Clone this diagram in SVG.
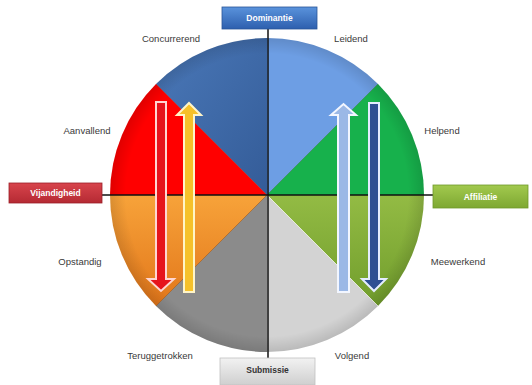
<svg xmlns="http://www.w3.org/2000/svg" width="532" height="385" viewBox="0 0 532 385">
<defs>
<style>
.lbl{font-family:"Liberation Sans",Arial,sans-serif;font-size:9.5px;fill:#3a3a3a;text-anchor:middle}
.btxt{font-family:"Liberation Sans",Arial,sans-serif;font-size:8.5px;font-weight:bold;text-anchor:middle}
.conn{stroke:#111;stroke-width:1.5;fill:none}
.div{stroke-width:1;fill:none}
</style>
<linearGradient id="gBlue" x1="0" y1="0" x2="0" y2="1"><stop offset="0" stop-color="#5a93dc"/><stop offset="1" stop-color="#2d5fae"/></linearGradient>
<linearGradient id="gRed" x1="0" y1="0" x2="0" y2="1"><stop offset="0" stop-color="#d8444c"/><stop offset="1" stop-color="#b52a33"/></linearGradient>
<linearGradient id="gGreen" x1="0" y1="0" x2="0" y2="1"><stop offset="0" stop-color="#a2c94e"/><stop offset="1" stop-color="#7ea832"/></linearGradient>
<linearGradient id="gGray" x1="0" y1="0" x2="0" y2="1"><stop offset="0" stop-color="#f2f2f2"/><stop offset="1" stop-color="#cfcfcf"/></linearGradient>
<linearGradient id="gOrange" x1="0" y1="0" x2="0" y2="1"><stop offset="0" stop-color="#f7a33a"/><stop offset="1" stop-color="#e2761a"/></linearGradient>
<linearGradient id="gOlive" x1="0" y1="0" x2="0" y2="1"><stop offset="0" stop-color="#93bb44"/><stop offset="1" stop-color="#719d2c"/></linearGradient>
<linearGradient id="gDark" x1="0" y1="0" x2="1" y2="1"><stop offset="0" stop-color="#4a78b8"/><stop offset="1" stop-color="#345c98"/></linearGradient>
<radialGradient id="gEdge" cx="0.5" cy="0.5" r="0.5"><stop offset="0.9" stop-color="#000" stop-opacity="0"/><stop offset="1" stop-color="#000" stop-opacity="0.12"/></radialGradient>
</defs>
<rect width="532" height="385" fill="#fff"/>

<g id="circle">
<path id="s-concurrerend" d="M267,195 L267,38 A157,157 0 0 0 156,84 Z" fill="url(#gDark)"/>
<path id="s-leidend" d="M267,195 L378,84 A157,157 0 0 0 267,38 Z" fill="#6d9ee4"/>
<path id="s-helpend" d="M267,195 L424,195 A157,157 0 0 0 378,84 Z" fill="#17b14c"/>
<path id="s-meewerkend" d="M267,195 L378,306 A157,157 0 0 0 424,195 Z" fill="url(#gOlive)"/>
<path id="s-volgend" d="M267,195 L267,352 A157,157 0 0 0 378,306 Z" fill="#d3d3d3"/>
<path id="s-teruggetrokken" d="M267,195 L156,306 A157,157 0 0 0 267,352 Z" fill="#8b8b8b"/>
<path id="s-opstandig" d="M267,195 L110,195 A157,157 0 0 0 156,306 Z" fill="url(#gOrange)"/>
<path id="s-aanvallend" d="M267,195 L156,84 A157,157 0 0 0 110,195 Z" fill="#ff0000"/>
<circle cx="267" cy="195" r="157" fill="url(#gEdge)"/>
<line class="div" x1="267" y1="195" x2="156" y2="84" stroke="#8a1010" stroke-opacity="0.4"/>
<line class="div" x1="267" y1="195" x2="378" y2="84" stroke="#1a6a30" stroke-opacity="0.5"/>
<line class="div" x1="267" y1="195" x2="156" y2="306" stroke="#8a4a10" stroke-opacity="0.6"/>
<line class="div" x1="267" y1="195" x2="378" y2="306" stroke="#ffffff" stroke-opacity="0.5"/>
</g>

<g id="connectors">
<line class="conn" x1="268" y1="29" x2="268" y2="358"/>
<line class="conn" x1="102" y1="195" x2="433" y2="195"/>
</g>

<g id="arrows">
<polygon id="arrow-red" points="156,102 166,102 166,279 174,279 161,291 148,279 156,279" fill="#e6141c" stroke="#ffd6d2" stroke-width="2"/>
<polygon id="arrow-yellow" points="184,292 194,292 194,115 201,115 189,103 177,115 184,115" fill="#f6c12a" stroke="#fff5c8" stroke-width="2"/>
<polygon id="arrow-lightblue" points="338,292 349,292 349,115 356,115 343.5,104 331,115 338,115" fill="#9bb8e6" stroke="#f2f6ff" stroke-width="2"/>
<polygon id="arrow-darkblue" points="369,103 379,103 379,279 386,279 374,291 362,279 369,279" fill="#2e4f93" stroke="#e4ecff" stroke-width="2"/>
</g>

<g id="box-dominantie">
<rect x="222" y="7" width="95" height="22" fill="url(#gBlue)" stroke="#2a5598" stroke-width="0.8"/>
<text class="btxt" x="269.5" y="21" fill="#fff">Dominantie</text>
</g>
<g id="box-vijandigheid">
<rect x="9" y="183" width="93" height="20" fill="url(#gRed)" stroke="#9c2028" stroke-width="0.8"/>
<text class="btxt" x="55.5" y="196" fill="#fff">Vijandigheid</text>
</g>
<g id="box-affiliatie">
<rect x="433" y="185" width="95" height="23" fill="url(#gGreen)" stroke="#6f9a2a" stroke-width="0.8"/>
<text class="btxt" x="480.5" y="199.5" fill="#fff">Affiliatie</text>
</g>
<g id="box-submissie">
<rect x="220" y="358" width="95" height="27" fill="url(#gGray)" stroke="#c0c0c0" stroke-width="0.8"/>
<text class="btxt" x="267.5" y="373" fill="#333">Submissie</text>
</g>

<g id="labels">
<text class="lbl" x="171" y="42">Concurrerend</text>
<text class="lbl" x="351" y="42">Leidend</text>
<text class="lbl" x="87" y="134">Aanvallend</text>
<text class="lbl" x="442" y="134">Helpend</text>
<text class="lbl" x="80" y="265">Opstandig</text>
<text class="lbl" x="458" y="265">Meewerkend</text>
<text class="lbl" x="160" y="359">Teruggetrokken</text>
<text class="lbl" x="352" y="359">Volgend</text>
</g>
</svg>
